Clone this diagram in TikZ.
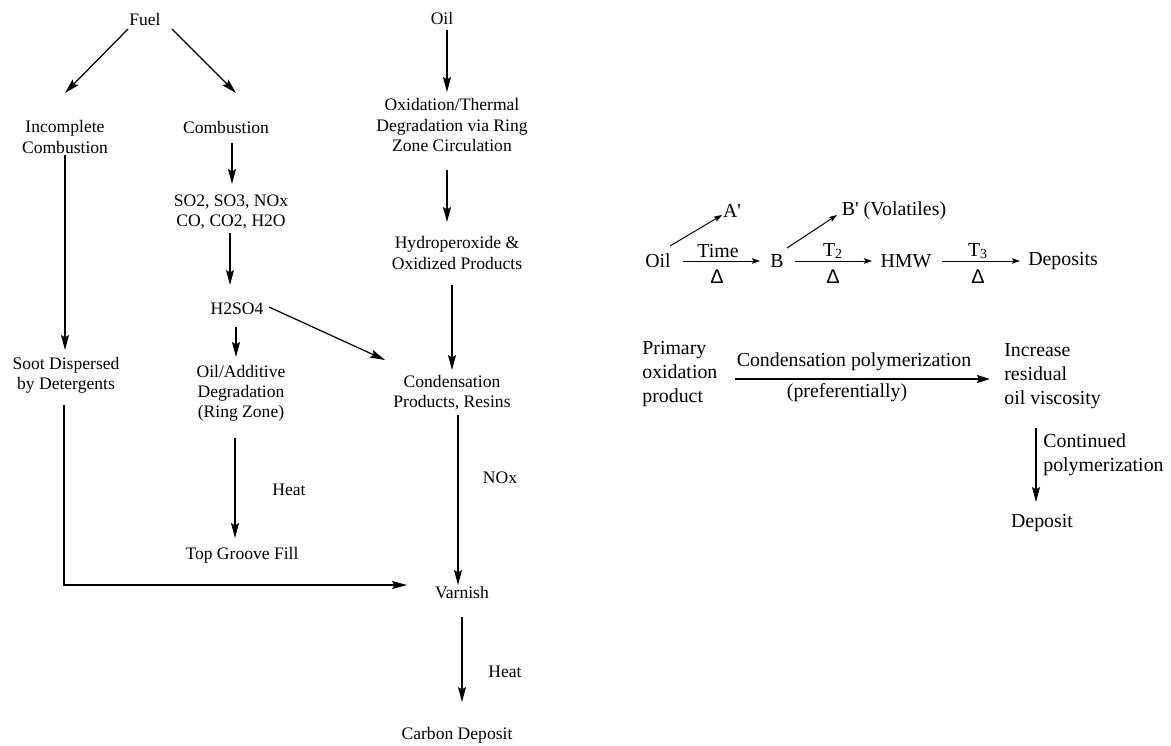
\documentclass[tikz,border=0pt]{standalone}
\usepackage{fontspec}
\setmainfont{Liberation Serif}
\newfontfamily\symfnt{Liberation Sans}
\usetikzlibrary{arrows.meta,calc}
\newcommand{\heatsym}{{\symfnt Δ}}
\newcommand{\prm}{\textquotesingle}

\begin{document}
\begin{tikzpicture}[x=0.2mm,y=-0.2mm,
  every node/.style={inner sep=0pt,align=center,font=\fontsize{10}{11.5}\selectfont},
  big/.style={font=\fontsize{11.3}{13.6}\selectfont},
  arr/.style={line width=0.7pt,-{Stealth[length=3mm,width=1.6mm,inset=0.5mm]}},
  sarr/.style={line width=0.55pt,-{Stealth[length=1.6mm,width=1.1mm,inset=0.3mm]}},
  warr/.style={line width=1pt,-{Stealth[length=2.6mm,width=1.6mm,inset=0.4mm]}}]
\useasboundingbox (0,0) rectangle (1171,745);
\node (fuel) at (145,19) {Fuel};
\node (inc) at (65,137) {Incomplete\\Combustion};
\node (comb) at (226,127) {Combustion};
\node (gas) at (231,212) {SO2, SO3, NOx\\CO, CO2, H2O};
\node (acid) at (237,309) {H2SO4};
\node (degr) at (241,393) {Oil/Additive\\Degradation\\(Ring Zone)};
\node (heat1) at (289,490) {Heat};
\node (groove) at (242,555) {Top Groove Fill};
\node (soot) at (66,375) {Soot Dispersed\\by Detergents};
\node (oil) at (442,18) {Oil};
\node (oxid) at (452,125) {Oxidation/Thermal\\Degradation via Ring\\Zone Circulation};
\node (hydro) at (457,253) {Hydroperoxide \&\\Oxidized Products};
\node (cond) at (452,393) {Condensation\\Products, Resins};
\node (nox) at (500,478) {NOx};
\node (varn) at (462,593) {Varnish};
\node (heat2) at (505,672) {Heat};
\node (carbon) at (457,735) {Carbon Deposit};
\draw[arr] ($(fuel)+(-17,10)$) to ($(inc)+(0,-44)$);
\draw[arr] ($(fuel)+(27,10)$) to ($(comb)+(10,-34)$);
\draw[arr] ($(comb)+(6,16)$) to ($(gas)+(1,-28)$);
\draw[arr] ($(gas)+(-1,21)$) to ($(acid)+(-7,-24)$);
\draw[arr] ($(acid)+(-1,18)$) to ($(degr)+(-5,-36)$);
\draw[arr] ($(degr)+(-6,45)$) to ($(groove)+(-7,-17)$);
\draw[arr] ($(acid)+(32,-2)$) to ($(cond)+(-67,-33)$);
\draw[arr] ($(inc)+(0,18)$) to ($(soot)+(-1,-25)$);
\draw[arr] ($(soot)+(-2,30)$) |- ($(varn)+(-55,-8)$);
\draw[arr] ($(oil)+(5,12)$) to ($(oxid)+(-5,-33)$);
\draw[arr] ($(oxid)+(-5,45)$) to ($(hydro)+(-10,-31)$);
\draw[arr] ($(hydro)+(-5,32)$) to ($(cond)+(0,-23)$);
\draw[arr] ($(cond)+(6,22)$) to ($(varn)+(-4,-8)$);
\draw[arr] ($(varn)+(0,24)$) to ($(carbon)+(5,-33)$);

\node[big] (oil2) at (658,261) {Oil};
\node[big] (ap) at (732,211) {A\prm};
\node[big] (b) at (777,261) {B};
\node[big] (bp) at (894,211) {B\prm{} (Volatiles)};
\node[big] (hmw) at (906,261) {HMW};
\node[big] (deps) at (1063,261) {Deposits};
\node[big] (time) at (718,251) {Time};
\node[big] (d1) at (717,277) {\heatsym};
\node[big] (t2) at (833,251) {T\textsubscript{2}};
\node[big] (d2) at (833,277) {\heatsym};
\node[big] (t3) at (978,251) {T\textsubscript{3}};
\node[big] (d3) at (978,277) {\heatsym};
\draw[sarr] ($(oil2)+(25,0)$) to ($(b)+(-17,0)$);
\draw[sarr] ($(oil2)+(12,-15)$) to ($(ap)+(-10,4)$);
\draw[sarr] ($(b)+(10,-13)$) to ($(bp)+(-57,4)$);
\draw[sarr] ($(b)+(18,0)$) to ($(hmw)+(-34,0)$);
\draw[sarr] ($(hmw)+(36,0)$) to ($(deps)+(-43,0)$);

\node[big,align=left,anchor=west] (prim) at (642,374) {Primary\\oxidation\\product};
\node[big,align=left,anchor=west] (incr) at (1004,376) {Increase\\residual\\oil viscosity};
\node[big] (cpol) at (854,362) {Condensation polymerization};
\node[big] (pref) at (847,393) {(preferentially)};
\node[big,align=left,anchor=west] (cont) at (1043,455) {Continued\\polymerization};
\node[big] (depo) at (1042,523) {Deposit};
\draw[warr] ($(prim.west)+(93,5)$) to ($(incr.west)+(-14,3)$);
\draw[arr] ($(incr.west)+(32,52)$) to ($(depo)+(-6,-21)$);
\end{tikzpicture}
\end{document}
